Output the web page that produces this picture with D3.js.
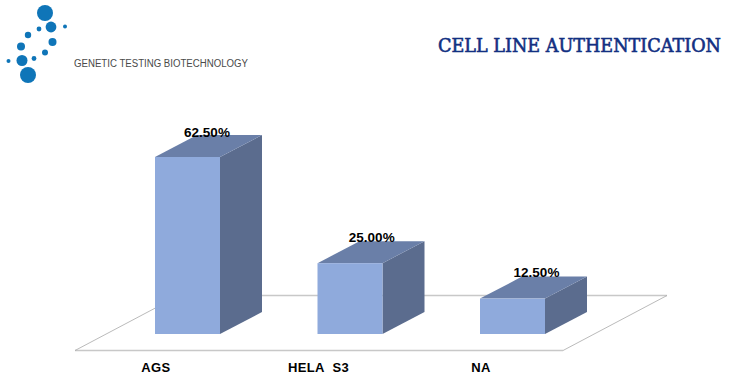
<!DOCTYPE html>
<html>
<head>
<meta charset="utf-8">
<script src="https://cdn.jsdelivr.net/npm/d3@7"></script>
<style>
html, body { margin: 0; padding: 0; background: #fff; }
svg { display: block; }
</style>
</head>
<body>
<svg id="svg"></svg>
<script>
var width = 741, height = 391;

var categories = ["AGS", "HELA  S3", "NA"];
var values = [62.5, 25, 12.5];
var logoDots = [[45,13,8],[51,27,5.4],[65,26.5,2],[39,29,2.4],[28,35,3.2],[21,46.5,4],[52.5,42,4],[45,52.5,3],[34,58.5,2.4],[22,60.5,5.5],[8.5,61,2],[28,75,8]];

var depthX = 42, depthY = 22;
var floor = {left: 75, right: 563, front: 350.5, back: 295.5};

var svg = d3.select("#svg")
	.attr("width", width)
	.attr("height", height);

var x = d3.scaleBand()
	.domain(categories)
	.range([106.25, 593.75])
	.paddingInner(0.6)
	.paddingOuter(0.3);

var y = d3.scaleLinear()
	.domain([0, 62.5])
	.range([334, 157]);

// value labels sit a little off the bar tops
var labelX = d3.scalePoint()
	.domain(categories)
	.range([207, 536.5]);

var labelY = d3.scaleLinear()
	.domain([12.5, 62.5])
	.range([277.3, 137]);

// logo
svg.append("g")
	.selectAll("circle")
	.data(logoDots)
	.enter()
	.append("circle")
	.attr("cx", function(d) { return d[0]; })
	.attr("cy", function(d) { return d[1]; })
	.attr("r", function(d) { return d[2]; })
	.attr("fill", "#0f75b8");

svg.append("text")
	.attr("x", 74)
	.attr("y", 66.5)
	.attr("font-family", "Liberation Sans")
	.attr("font-size", 10)
	.attr("fill", "#4a4a4a")
	.attr("textLength", 174)
	.attr("lengthAdjust", "spacingAndGlyphs")
	.text("GENETIC TESTING BIOTECHNOLOGY");

svg.append("text")
	.attr("x", 438)
	.attr("y", 52)
	.attr("font-family", "DejaVu Serif")
	.attr("font-size", 18)
	.attr("fill", "#123082")
	.attr("stroke", "#123082")
	.attr("stroke-width", 0.6)
	.attr("textLength", 283)
	.attr("lengthAdjust", "spacingAndGlyphs")
	.text("CELL LINE AUTHENTICATION");

// floor of the 3d plot
var floorGroup = svg.append("g").attr("fill", "none");

floorGroup.append("path")
	.attr("d", "M" + floor.left + "," + floor.front + "H" + floor.right)
	.attr("stroke", "#c8c8c8")
	.attr("stroke-width", 1.5);

floorGroup.append("path")
	.attr("d", "M" + (floor.left + 104) + "," + floor.back + "H" + (floor.right + 104))
	.attr("stroke", "#c8c8c8")
	.attr("stroke-width", 1.5);

floorGroup.append("path")
	.attr("d", "M" + floor.left + "," + floor.front + "L" + (floor.left + 104) + "," + floor.back)
	.attr("stroke", "#a8a8a8")
	.attr("stroke-width", 0.8);

floorGroup.append("path")
	.attr("d", "M" + floor.right + "," + floor.front + "L" + (floor.right + 104) + "," + floor.back)
	.attr("stroke", "#a8a8a8")
	.attr("stroke-width", 0.8);

var bars = svg.append("g")
	.selectAll("g")
	.data(categories.map(function(c, i) { return {name: c, value: values[i]}; }))
	.enter()
	.append("g");

// right side
bars.append("path")
	.attr("fill", "#5b6c8e")
	.attr("d", function(d) {
		var x1 = x(d.name) + x.bandwidth();
		return "M" + x1 + "," + y(d.value) + "L" + (x1 + depthX) + "," + (y(d.value) - depthY)
			+ "V" + (y(0) - depthY) + "L" + x1 + "," + y(0) + "Z";
	});

// top
bars.append("path")
	.attr("fill", "#6a7fa8")
	.attr("d", function(d) {
		var x0 = x(d.name), x1 = x0 + x.bandwidth();
		return "M" + x0 + "," + y(d.value) + "L" + (x0 + depthX) + "," + (y(d.value) - depthY)
			+ "H" + (x1 + depthX) + "L" + x1 + "," + y(d.value) + "Z";
	});

// front
bars.append("rect")
	.attr("x", function(d) { return x(d.name); })
	.attr("y", function(d) { return y(d.value); })
	.attr("width", x.bandwidth())
	.attr("height", function(d) { return y(0) - y(d.value); })
	.attr("fill", "#8faadc");

bars.append("text")
	.attr("x", function(d) { return labelX(d.name); })
	.attr("y", function(d) { return labelY(d.value); })
	.attr("text-anchor", "middle")
	.attr("font-family", "Liberation Sans")
	.attr("font-weight", "bold")
	.attr("font-size", 13.5)
	.attr("fill", "#000")
	.text(function(d) { return d.value.toFixed(2) + "%"; });

svg.append("g")
	.selectAll("text")
	.data(categories)
	.enter()
	.append("text")
	.attr("x", function(d) { return x(d) + x.bandwidth() / 2 - 31.5; })
	.attr("y", 372)
	.attr("text-anchor", "middle")
	.attr("font-family", "Liberation Sans")
	.attr("font-weight", "bold")
	.attr("font-size", 13)
	.attr("letter-spacing", 0.4)
	.style("white-space", "pre")
	.attr("fill", "#000")
	.text(function(d) { return d; });
</script>
</body>
</html>
